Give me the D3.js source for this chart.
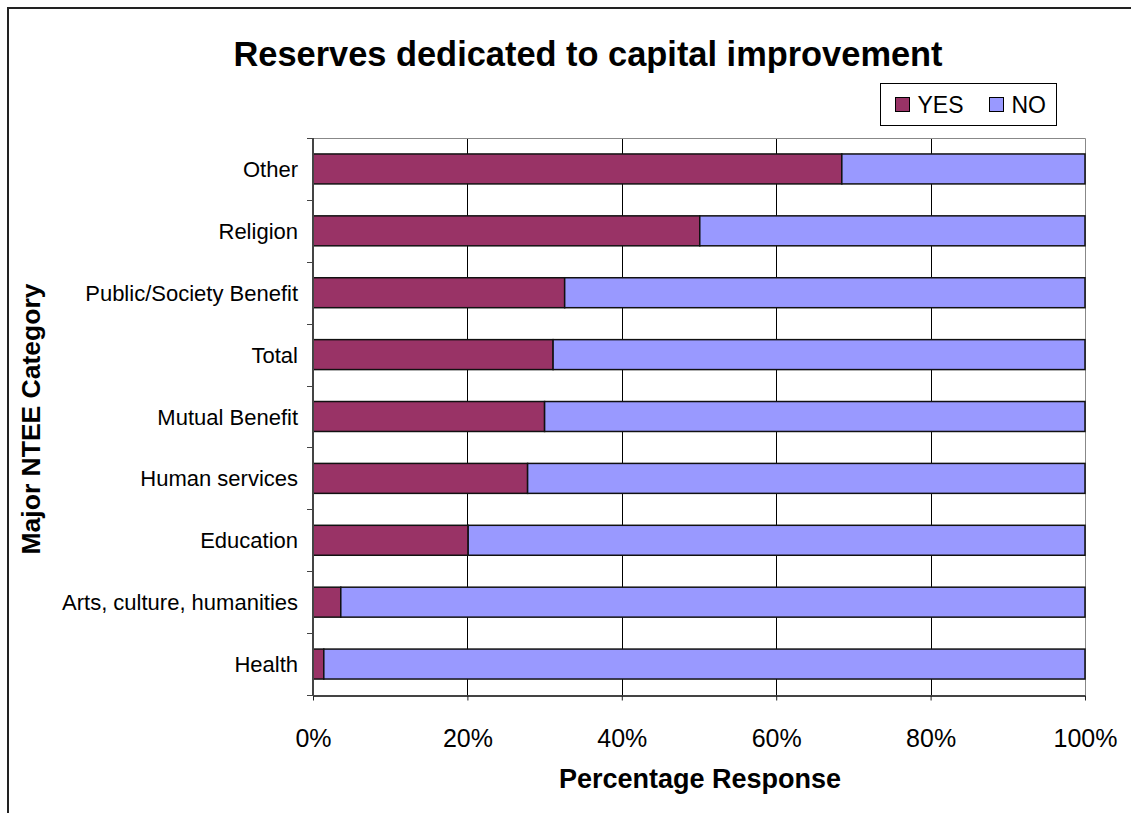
<!DOCTYPE html>
<html>
<head>
<meta charset="utf-8">
<script src="https://cdn.jsdelivr.net/npm/d3@7"></script>
<style>
  html, body { margin: 0; padding: 0; background: #fff; }
  svg { display: block; font-family: "Liberation Sans", Arial, sans-serif; }
</style>
</head>
<body>
<svg id="chart" width="1131" height="813"></svg>
<script>
// Share of organisations with reserves dedicated to capital improvement
const categories = ["Other", "Religion", "Public/Society Benefit", "Total", "Mutual Benefit",
                    "Human services", "Education", "Arts, culture, humanities", "Health"];
const yesValues = [68.5, 50.1, 32.6, 31.1, 30.0, 27.8, 20.1, 3.6, 1.4];
const noValues = yesValues.map(v => 100 - v);
const seriesNames = ["YES", "NO"];
const seriesColors = ["#993366", "#9999FF"];
const xTickValues = [0, 20, 40, 60, 80, 100];

const svg = d3.select("#chart");
const plot = { left: 313, right: 1085, top: 138, bottom: 695 };

const x = d3.scaleLinear().domain([0, 100]).range([plot.left, plot.right]);
const y = d3.scaleBand().domain(categories).range([plot.top, plot.bottom]).paddingInner(0.516).paddingOuter(0.258);

// outer chart frame (runs off the right and bottom edges)
svg.append("path")
  .attr("d", "M8,813 L8,8 L1131,8")
  .attr("fill", "none").attr("stroke", "#222").attr("stroke-width", 2);

// vertical gridlines
svg.append("g").selectAll("line")
  .data(xTickValues.filter(v => v > 0 && v < 100))
  .join("line")
  .attr("x1", d => Math.round(x(d)) + 0.5).attr("x2", d => Math.round(x(d)) + 0.5)
  .attr("y1", plot.top).attr("y2", plot.bottom)
  .attr("stroke", "#000").attr("stroke-width", 1);

// plot area top and right edges
svg.append("path")
  .attr("d", `M${plot.left},${plot.top + 0.5} L${plot.right + 0.5},${plot.top + 0.5} L${plot.right + 0.5},${plot.bottom}`)
  .attr("fill", "none").attr("stroke", "#888").attr("stroke-width", 1);

// stacked bars
const rows = categories.map((c, i) => ({ cat: c, parts: [[0, yesValues[i]], [yesValues[i], yesValues[i] + noValues[i]]] }));
const barGroup = svg.append("g");
rows.forEach(r => {
  r.parts.forEach((p, k) => {
    barGroup.append("rect")
      .attr("x", x(p[0])).attr("y", y(r.cat))
      .attr("width", x(p[1]) - x(p[0])).attr("height", y.bandwidth())
      .attr("fill", seriesColors[k])
      .attr("stroke", "#111").attr("stroke-width", 1.5);
  });
});

// x axis
const xAxis = svg.append("g")
  .attr("transform", `translate(0,${plot.bottom + 0.5})`)
  .call(d3.axisBottom(x).tickValues(xTickValues).tickSize(5).tickSizeOuter(0).tickPadding(46)
        .tickFormat(d => d + "%"));
xAxis.select(".domain").attr("stroke", "#444").attr("stroke-width", 2);
xAxis.selectAll(".tick line").attr("stroke", "#222");
xAxis.selectAll("text").attr("font-size", 25).attr("fill", "#000")
  .attr("font-family", "Liberation Sans, Arial, sans-serif").attr("dy", "0");

// y axis: line plus ticks at category boundaries
svg.append("line")
  .attr("x1", plot.left).attr("x2", plot.left)
  .attr("y1", plot.top).attr("y2", plot.bottom + 1)
  .attr("stroke", "#444").attr("stroke-width", 2);
const boundaries = d3.range(categories.length + 1).map(i => plot.top + i * y.step());
svg.append("g").selectAll("line").data(boundaries).join("line")
  .attr("x1", plot.left - 6).attr("x2", plot.left)
  .attr("y1", d => Math.round(d) + 0.5).attr("y2", d => Math.round(d) + 0.5)
  .attr("stroke", "#444").attr("stroke-width", 1);

// category labels
svg.append("g").selectAll("text").data(categories).join("text")
  .attr("x", 298).attr("y", d => y(d) + y.bandwidth() / 2 + 8)
  .attr("text-anchor", "end").attr("font-size", 22).attr("fill", "#000")
  .text(d => d);

// title
svg.append("text")
  .attr("x", 588).attr("y", 66).attr("text-anchor", "middle")
  .attr("font-size", 34.4).attr("font-weight", "bold").attr("fill", "#000")
  .text("Reserves dedicated to capital improvement");

// axis titles
svg.append("text")
  .attr("x", 700).attr("y", 788).attr("text-anchor", "middle")
  .attr("font-size", 27).attr("font-weight", "bold").attr("fill", "#000")
  .text("Percentage Response");
svg.append("text")
  .attr("transform", "translate(40,419) rotate(-90)").attr("text-anchor", "middle")
  .attr("font-size", 26.5).attr("font-weight", "bold").attr("fill", "#000")
  .text("Major NTEE Category");

// legend
const legend = svg.append("g").attr("transform", "translate(880.5,83.5)");
legend.append("rect").attr("width", 176).attr("height", 42)
  .attr("fill", "#fff").attr("stroke", "#000").attr("stroke-width", 1);
const legendItems = [{ x: 15, tx: 37 }, { x: 109, tx: 131 }];
seriesNames.forEach((name, k) => {
  legend.append("rect").attr("x", legendItems[k].x).attr("y", 14).attr("width", 14).attr("height", 14)
    .attr("fill", seriesColors[k]).attr("stroke", "#000").attr("stroke-width", 1);
  legend.append("text").attr("x", legendItems[k].tx).attr("y", 29)
    .attr("font-size", 23).attr("fill", "#000").text(name);
});
</script>
</body>
</html>
